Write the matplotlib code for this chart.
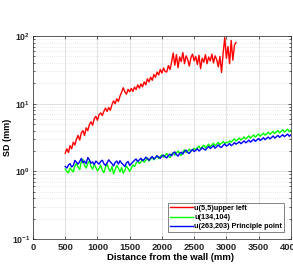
import numpy as np
import matplotlib
matplotlib.use("Agg")
import matplotlib.pyplot as plt
from matplotlib.ticker import LogLocator, NullFormatter, FixedLocator

plt.rcParams['font.family'] = ['Liberation Sans', 'DejaVu Sans']
plt.rcParams['font.weight'] = 'bold'
plt.rcParams['mathtext.fontset'] = 'custom'
plt.rcParams['mathtext.rm'] = 'Liberation Sans:bold'
plt.rcParams['mathtext.bf'] = 'Liberation Sans:bold'
plt.rcParams['mathtext.default'] = 'bf'

# distances (mm), sampled every 25 mm
dist_red = np.arange(500, 3151, 25)
dist = np.arange(500, 4001, 25)

sd_upper_left = [
    1.85, 2.15, 1.90, 2.4, 2.15, 2.7, 2.45, 3.0, 3.4, 2.9,
    3.7, 4.0, 3.4, 4.4, 4.0, 4.9, 5.4, 4.8, 6.0, 6.5,
    5.7, 6.9, 7.3, 6.7, 7.7, 8.6, 7.7, 8.8, 8.0, 9.7,
    11.0, 10.0, 11.8, 10.8, 13.0, 14.8, 17.2, 15.0, 13.8, 16.3,
    15.0, 16.8, 15.2, 17.6, 16.2, 19.0, 17.0, 19.6, 17.8, 21.0,
    19.0, 23.4, 21.0, 24.6, 22.2, 27.0, 24.6, 29.4, 26.6, 32.0,
    28.4, 33.6, 30.0, 29.4, 36.6, 32.0, 41.0, 56.0, 37.0, 53.0,
    34.0, 49.0, 42.0, 57.0, 39.0, 51.0, 45.0, 36.0, 48.0, 54.0,
    43.0, 50.0, 38.0, 52.0, 33.0, 47.0, 41.0, 53.0, 39.0, 49.0,
    43.0, 54.0, 40.0, 51.0, 45.0, 35.0, 50.0, 29.0, 56.0, 95.0,
    47.0, 70.0, 39.0, 86.0, 44.0, 73.0, 80.0,
]

sd_134_104 = [
    1.08, 1.00, 0.95, 1.12, 1.05, 0.98, 1.20, 1.32, 1.15, 1.06, 1.40,
    1.50, 1.22, 1.12, 1.30, 1.44, 1.18, 1.08, 1.26, 1.14, 1.02,
    1.10, 1.24, 1.04, 0.96, 1.16, 1.28, 1.08, 1.00, 1.18, 0.92,
    1.06, 1.22, 1.12, 0.98, 1.14, 0.94, 1.04, 1.20, 1.10, 1.00,
    1.12, 1.24, 1.18, 1.32, 1.44, 1.30, 1.38, 1.50, 1.36, 1.46,
    1.58, 1.42, 1.52, 1.64, 1.48, 1.58, 1.70, 1.54, 1.66, 1.76,
    1.62, 1.72, 1.84, 1.68, 1.60, 1.78, 1.90, 1.74, 1.86, 2.00,
    1.82, 1.72, 1.94, 2.08, 1.90, 1.98, 2.14, 1.96, 2.06, 2.20,
    2.08, 2.24, 2.36, 2.16, 2.30, 2.44, 2.22, 2.38, 2.52, 2.30,
    2.46, 2.60, 2.40, 2.54, 2.68, 2.48, 2.62, 2.76, 2.56, 2.70,
    2.64, 2.82, 2.70, 2.88, 3.02, 2.80, 2.96, 3.10, 2.90, 3.06,
    3.22, 3.00, 3.16, 3.34, 3.10, 3.28, 3.46, 3.20, 3.40, 3.56,
    3.30, 3.50, 3.66, 3.42, 3.60, 3.78, 3.52, 3.70, 3.90, 3.62,
    3.82, 4.02, 3.70, 3.90, 4.12, 3.80, 3.98, 4.20, 3.88, 4.06,
]

sd_principal = [
    1.18, 1.12, 1.24, 1.30, 1.16, 1.22, 1.45, 1.36, 1.28, 1.40, 1.55,
    1.34, 1.42, 1.30, 1.60, 1.48, 1.32, 1.38, 1.26, 1.42, 1.35,
    1.28, 1.40, 1.46, 1.30, 1.22, 1.34, 1.48, 1.38, 1.30, 1.20,
    1.36, 1.42, 1.28, 1.44, 1.32, 1.26, 1.18, 1.34, 1.40, 1.22,
    1.30, 1.38, 1.46, 1.52, 1.40, 1.48, 1.56, 1.44, 1.50, 1.62,
    1.54, 1.46, 1.58, 1.66, 1.52, 1.60, 1.70, 1.62, 1.56, 1.68,
    1.74, 1.64, 1.58, 1.72, 1.80, 1.70, 1.86, 1.94, 1.76, 1.68,
    1.84, 1.92, 1.80, 1.98, 2.06, 1.90, 1.84, 2.00, 2.12, 1.96,
    2.04, 2.16, 2.00, 2.10, 2.24, 2.14, 2.06, 2.22, 2.34, 2.18,
    2.28, 2.40, 2.20, 2.32, 2.46, 2.30, 2.26, 2.42, 2.54, 2.36,
    2.44, 2.58, 2.40, 2.50, 2.66, 2.52, 2.62, 2.74, 2.56, 2.68,
    2.82, 2.64, 2.76, 2.90, 2.70, 2.84, 2.98, 2.78, 2.92, 3.06,
    2.86, 3.00, 3.14, 2.94, 3.08, 3.22, 3.02, 3.16, 3.34, 3.10,
    3.24, 3.40, 3.18, 3.32, 3.48, 3.26, 3.40, 3.56, 3.30, 3.46,
]

labels = ['u(5,5)upper left', 'u(134,104)', 'u(263,203) Principle point']
xticks = [0, 500, 1000, 1500, 2000, 2500, 3000, 3500, 4000]

fig = plt.figure(figsize=(2.93, 2.65), dpi=100)
ax = fig.add_axes([0.1126, 0.098, 0.880, 0.766])

ax.semilogy(dist_red, sd_upper_left, color='#ff0000', lw=1.0, label=labels[0])
ax.semilogy(dist, sd_134_104, color='#00ff00', lw=1.0, label=labels[1])
ax.semilogy(dist, sd_principal, color='#0000ff', lw=1.0, label=labels[2])

ax.set_xlim(0, 4000)
ax.set_ylim(0.1, 100)
ax.xaxis.set_major_locator(FixedLocator(xticks))
ax.set_xticklabels([str(t) for t in xticks])
ax.set_yticks([0.1, 1, 10, 100])
ax.set_yticklabels([r'$10^{-1}$', r'$10^{0}$', r'$10^{1}$', r'$10^{2}$'])
ax.yaxis.set_minor_locator(LogLocator(base=10, subs=np.arange(2, 10)))
ax.yaxis.set_minor_formatter(NullFormatter())

ax.grid(True, which='major', color='#dcdcdc', lw=0.6, ls='-')
ax.grid(True, which='minor', axis='y', color='#d4d4d4', lw=0.5, ls=(0, (1, 2)))
ax.set_axisbelow(True)

ax.tick_params(which='both', direction='in', top=True, right=True,
               length=2.5, width=0.5, colors='#262626')
ax.tick_params(axis='x', labelsize=6.8, pad=3)
ax.tick_params(axis='y', labelsize=6.3, pad=2)
ax.tick_params(which='minor', length=1.5)
for s in ax.spines.values():
    s.set_color('#262626')
    s.set_linewidth(0.5)

ax.set_xlabel('Distance from the wall (mm)', fontsize=6.8, fontweight='bold')
ax.set_ylabel('SD (mm)', fontsize=6.5, fontweight='bold')
ax.xaxis.set_label_coords(0.534, -0.071)
ax.yaxis.set_label_coords(-0.080, 0.5)

leg = ax.legend(loc='lower right', fontsize=5.2, frameon=True, fancybox=False,
                handlelength=3.2, handletextpad=0.2, borderpad=0.25,
                labelspacing=0.3, borderaxespad=0, bbox_to_anchor=(0.974, 0.034))
leg.get_frame().set_edgecolor('#262626')
leg.get_frame().set_linewidth(0.5)

plt.savefig('out.png', dpi=100)
